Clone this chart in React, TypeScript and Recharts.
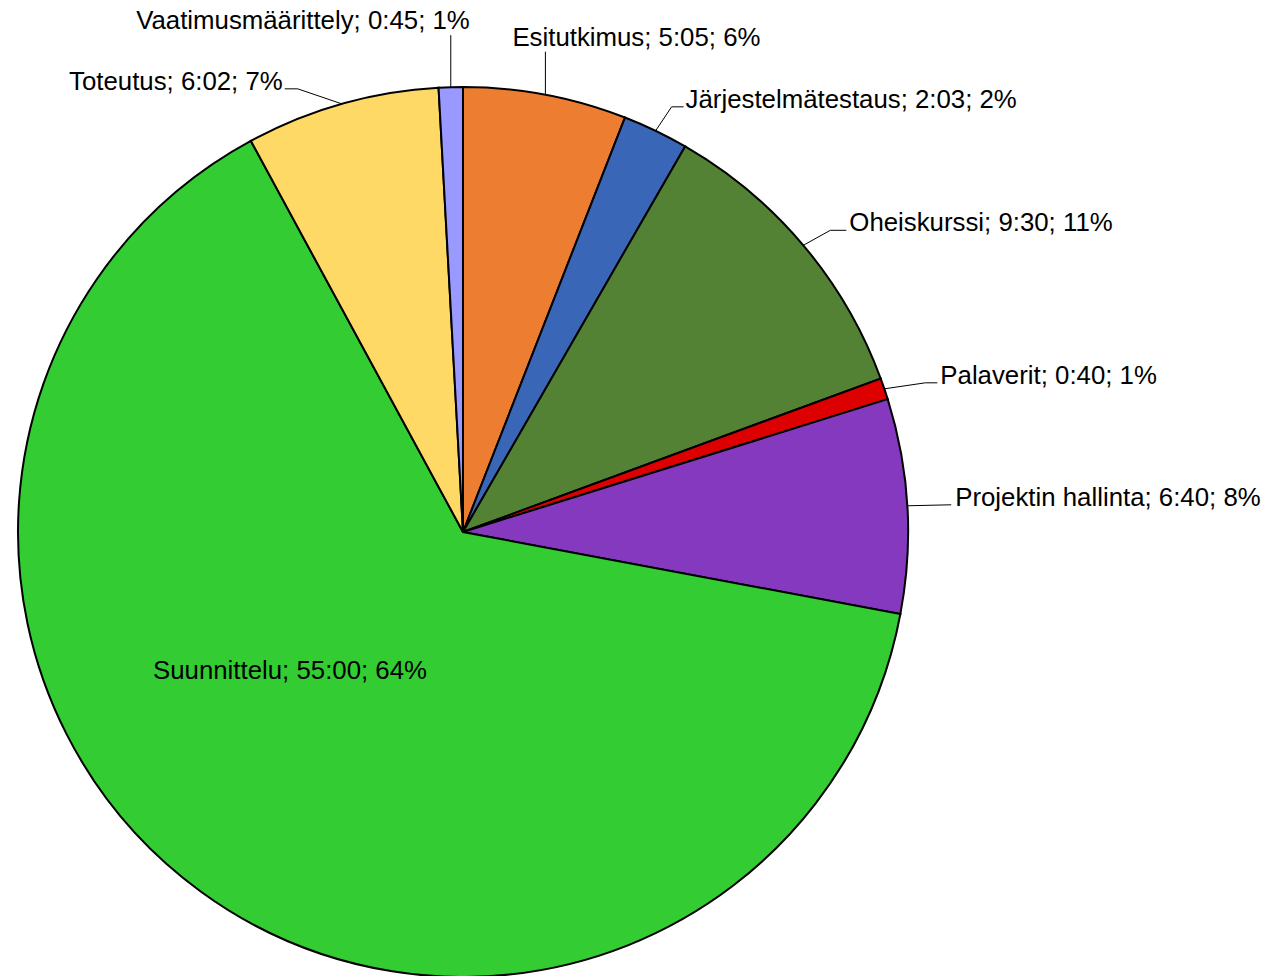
import React from 'react';
import { PieChart, Pie, Cell } from 'recharts';

// --- DATA ---

const categories = [
  'Esitutkimus',
  'Järjestelmätestaus',
  'Oheiskurssi',
  'Palaverit',
  'Projektin hallinta',
  'Suunnittelu',
  'Toteutus',
  'Vaatimusmäärittely',
];

// käytetty aika minuutteina (5:05 = 305 min jne.)
const minutes = [305, 123, 570, 40, 400, 3300, 362, 45];

const colors = ['#ED7D31', '#3A66B8', '#548235', '#DD0000', '#8439BE', '#33CC33', '#FFD966', '#9999FF'];

// --- LABEL LAYOUT (offsets from the slice's outer edge point) ---

type LabelLayout = {
  inside?: boolean;
  elbow?: [number, number];
  join: [number, number];
  text: [number, number];
  anchor: 'start' | 'middle' | 'end';
};

const labelLayout: LabelLayout[] = [
  { join: [0, -43], text: [-33, -6], anchor: 'start' },
  { elbow: [16, -24], join: [28, -24], text: [2, 1], anchor: 'start' },
  { elbow: [27, -15], join: [43, -15], text: [3, 1], anchor: 'start' },
  { elbow: [41, -6], join: [53, -6], text: [3, 1], anchor: 'start' },
  { join: [44, -1], text: [4, 1], anchor: 'start' },
  { inside: true, join: [0, 0], text: [-173, 147], anchor: 'middle' },
  { elbow: [-44, -15], join: [-57, -15], text: [-2, 1], anchor: 'end' },
  { join: [0, -52], text: [19, -6], anchor: 'end' },
];

const RAD = Math.PI / 180;
const FONT = '"Liberation Sans", Arial, sans-serif';
const FONT_SIZE = 25.8;

const fmtTime = (m: number) => `${Math.floor(m / 60)}:${String(m % 60).padStart(2, '0')}`;

const data = categories.map((name, i) => ({ name, value: minutes[i] }));

const renderLabel = (props: any) => {
  const { cx, cy, midAngle, outerRadius, index, percent } = props;
  const lay = labelLayout[index];
  const text = `${categories[index]}; ${fmtTime(minutes[index])}; ${Math.round(percent * 100)}%`;

  if (lay.inside) {
    return (
      <text x={cx + lay.text[0]} y={cy + lay.text[1]} textAnchor="middle" fontSize={FONT_SIZE} fontFamily={FONT} fill="#000">
        {text}
      </text>
    );
  }

  const ex = cx + outerRadius * Math.cos(-midAngle * RAD);
  const ey = cy + outerRadius * Math.sin(-midAngle * RAD);
  const pts: [number, number][] = [[ex, ey]];
  if (lay.elbow) pts.push([ex + lay.elbow[0], ey + lay.elbow[1]]);
  const jx = ex + lay.join[0];
  const jy = ey + lay.join[1];
  pts.push([jx, jy]);
  const d = pts.map((p, i) => `${i === 0 ? 'M' : 'L'}${p[0]},${p[1]}`).join(' ');

  return (
    <g>
      <path d={d} stroke="#000" strokeWidth={1} fill="none" />
      <text x={jx + lay.text[0]} y={jy + lay.text[1]} textAnchor={lay.anchor} fontSize={FONT_SIZE} fontFamily={FONT} fill="#000">
        {text}
      </text>
    </g>
  );
};

export default function App() {
  return (
    <div style={{ position: 'absolute', left: 0, top: 0, width: 1268, height: 976, background: '#fff' }}>
      <PieChart width={1268} height={976} margin={{ top: 0, right: 0, bottom: 0, left: 0 }}>
        <Pie
          data={data}
          dataKey="value"
          nameKey="name"
          cx={463}
          cy={532}
          outerRadius={445}
          startAngle={90}
          endAngle={-270}
          stroke="#000"
          strokeWidth={2}
          labelLine={false}
          label={renderLabel}
          isAnimationActive={false}
        >
          {data.map((d, i) => (
            <Cell key={d.name} fill={colors[i]} />
          ))}
        </Pie>
      </PieChart>
    </div>
  );
}
